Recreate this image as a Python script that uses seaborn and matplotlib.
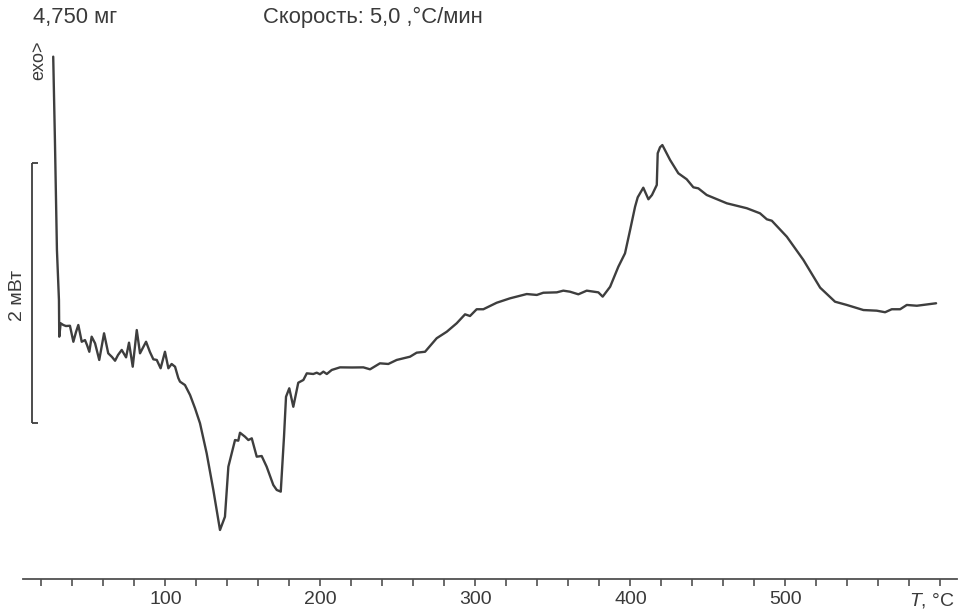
import matplotlib
matplotlib.use("Agg")
import matplotlib.pyplot as plt
import numpy as np
import pandas as pd
import seaborn as sns

# DSC trace: temperature (°C) and heat flow (mW)
temperature = [
    27.6, 28.7, 30.0, 31.3, 31.5, 32.4, 34.1, 35.8, 38.4, 40.6, 42.3, 43.8,
    46.0, 48.1, 49.4, 50.9, 52.4, 54.6, 57.3, 60.4, 63.1, 65.5, 67.5, 69.4,
    71.8, 74.6, 76.5, 78.9, 81.5, 83.6, 87.5, 90.0, 92.2, 94.4, 96.9, 99.7,
    101.9, 104.0, 106.2, 108.3, 109.4, 112.6, 115.9, 119.1, 122.3, 126.6,
    130.9, 135.2, 138.4, 140.6, 143.8, 144.9, 147.0, 148.1, 151.3, 153.5,
    155.7, 158.9, 162.1, 165.3, 169.6, 171.8, 174.4, 176.5, 177.8, 179.9,
    182.5, 185.7, 189.0, 191.2, 195.4, 197.6, 199.7, 201.9, 204.1, 207.3,
    212.6, 220.4, 227.7, 232.0, 238.4, 243.8, 249.2, 257.8, 262.1, 267.5,
    275.0, 281.5, 287.9, 293.3, 296.5, 300.8, 305.1, 313.7, 322.3, 333.1,
    339.6, 343.8, 352.5, 356.7, 361.0, 366.4, 371.8, 379.3, 382.1, 386.9,
    392.2, 396.5, 399.8, 403.0, 404.7, 408.3, 411.6, 413.9, 417.0, 417.6,
    419.1, 420.6, 425.6, 430.9, 436.3, 440.6, 443.8, 449.2, 462.2, 475.1,
    483.6, 488.0, 491.2, 500.9, 511.6, 522.4, 532.0, 539.6, 550.3, 558.9,
    564.3, 568.6, 574.0, 578.3, 584.8, 597.2,
]
heat_flow = [
    4.018, 3.377, 2.531, 2.146, 1.864, 1.967, 1.954, 1.946, 1.948, 1.825,
    1.900, 1.954, 1.825, 1.838, 1.800, 1.748, 1.864, 1.813, 1.685, 1.890,
    1.736, 1.708, 1.679, 1.723, 1.762, 1.705, 1.818, 1.633, 1.915, 1.736,
    1.825, 1.746, 1.690, 1.685, 1.621, 1.748, 1.621, 1.654, 1.633, 1.546,
    1.518, 1.492, 1.415, 1.313, 1.198, 0.967, 0.685, 0.377, 0.479, 0.864,
    1.018, 1.069, 1.064, 1.125, 1.095, 1.069, 1.082, 0.941, 0.946, 0.864,
    0.723, 0.685, 0.672, 1.095, 1.402, 1.467, 1.325, 1.510, 1.531, 1.582,
    1.577, 1.587, 1.575, 1.595, 1.577, 1.608, 1.628, 1.627, 1.628, 1.613,
    1.659, 1.654, 1.685, 1.710, 1.741, 1.748, 1.852, 1.902, 1.967, 2.036,
    2.023, 2.075, 2.075, 2.125, 2.159, 2.192, 2.185, 2.202, 2.205, 2.218,
    2.210, 2.190, 2.218, 2.205, 2.172, 2.248, 2.402, 2.505, 2.685, 2.864,
    2.936, 3.010, 2.921, 2.954, 3.031, 3.275, 3.321, 3.338, 3.223, 3.121,
    3.075, 3.013, 3.005, 2.954, 2.890, 2.852, 2.813, 2.767, 2.756, 2.633,
    2.454, 2.241, 2.133, 2.108, 2.069, 2.064, 2.052, 2.075, 2.075, 2.108,
    2.102, 2.121,
]

# Axis ticks
minor_ticks = list(range(20, 601, 20))
labelled_ticks = [100, 200, 300, 400, 500, 600]
tick_labels = ["100", "200", "300", "400", "500", ""]
axis_unit_at = 600
axis_unit_text = "$T$, °C"

# Scale bar for the heat-flow axis
scale_mw = 2.0
scale_base = 1.202
scale_x = 13.9

sample_text = "4,750 мг"
rate_text = "Скорость: 5,0 ,°C/мин"
exo_text = "exo>"
scale_text = "2 мВт"

sns.set_theme(style="white")
plt.rcParams["font.family"] = ["Liberation Sans", "DejaVu Sans"]
plt.rcParams["mathtext.fontset"] = "custom"
plt.rcParams["mathtext.it"] = "Liberation Sans:italic"
plt.rcParams["mathtext.rm"] = "Liberation Sans"

W, H = 961, 612
fig = plt.figure(figsize=(W / 100, H / 100), dpi=100)
fig.patch.set_facecolor("white")

left_px, right_px, bottom_px = 23.3, 956.7, 579
ax = fig.add_axes([left_px / W, (H - bottom_px) / H,
                   (right_px - left_px) / W, bottom_px / H])
ax.set_facecolor("white")

df = pd.DataFrame({"T": temperature, "q": heat_flow})
ink = "#3e3e3e"
sns.lineplot(data=df, x="T", y="q", ax=ax, sort=False, estimator=None,
             color=ink, linewidth=1.7)

ax.set_xlim(8.3, 610.5)
ax.set_ylim(0, bottom_px / 130)

for side in ("top", "left", "right"):
    ax.spines[side].set_visible(False)
ax.spines["bottom"].set_color("#505050")
ax.spines["bottom"].set_linewidth(1.3)

tick_len, tick_pad, label_size = 5, 3.5, 14
ax.set_xticks(minor_ticks, minor=True)
ax.set_xticks(labelled_ticks)
ax.set_xticklabels(tick_labels)
ax.tick_params(axis="x", which="both", direction="out", length=tick_len,
               width=1.2, color="#505050", bottom=True)
ax.tick_params(axis="x", which="major", labelsize=label_size,
               labelcolor="#3a3a3a", pad=tick_pad)
ax.set_yticks([])
ax.set_xlabel("")
ax.set_ylabel("")

# Axis unit sits under the last tick, nudged in from the right edge
ax.annotate(axis_unit_text, xy=(axis_unit_at, 0), xycoords=("data", "axes fraction"),
            xytext=(-6, -(tick_len + tick_pad)), textcoords="offset points",
            ha="center", va="top", fontsize=label_size, color="#3a3a3a",
            annotation_clip=False)

# Vertical scale bar with end caps
cap = 3.9
ax.plot([scale_x, scale_x], [scale_base, scale_base + scale_mw],
        color=ink, lw=1.3, clip_on=False, solid_capstyle="butt")
for yv in (scale_base, scale_base + scale_mw):
    ax.plot([scale_x, scale_x + cap], [yv, yv], color=ink, lw=1.3,
            clip_on=False, solid_capstyle="butt")

txt_color = "#3a3a3a"
fig.text(33 / W, 1 - 17 / H, sample_text, fontsize=15.8, color=txt_color,
         ha="left", va="center")
fig.text(263 / W, 1 - 17 / H, rate_text, fontsize=15.8, color=txt_color,
         ha="left", va="center")
fig.text(39 / W, 1 - 60 / H, exo_text, fontsize=13, color=txt_color,
         ha="center", va="center", rotation=90)
fig.text(18 / W, 1 - 295 / H, scale_text, fontsize=14, color=txt_color,
         ha="center", va="center", rotation=90)

fig.savefig("out.png", dpi=100, facecolor="white")
